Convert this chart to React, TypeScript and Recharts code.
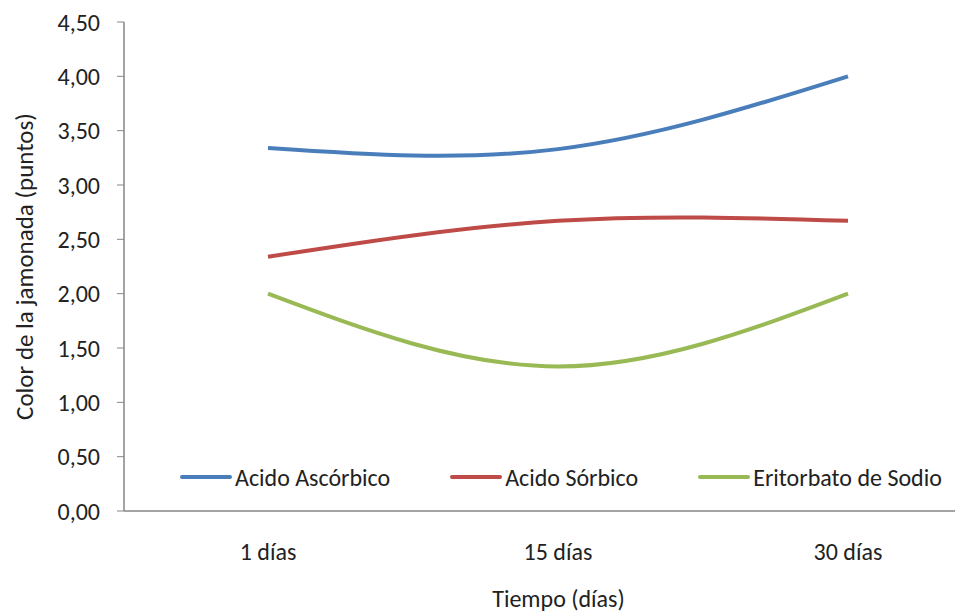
import { Label, Line, LineChart, XAxis, YAxis } from "recharts";

const DAYS = ["1 días", "15 días", "30 días"];
const ASCORBICO = [3.34, 3.33, 4.0];
const SORBICO = [2.34, 2.67, 2.67];
const ERITORBATO = [2.0, 1.33, 2.0];
const Y_TICKS = [0, 0.5, 1, 1.5, 2, 2.5, 3, 3.5, 4, 4.5];

const SERIES = [
  { key: "ascorbico", name: "Acido Ascórbico", color: "#4A7EBB" },
  { key: "sorbico", name: "Acido Sórbico", color: "#BE4B48" },
  { key: "eritorbato", name: "Eritorbato de Sodio", color: "#98B954" },
];

const data = DAYS.map((day, i) => ({
  day,
  ascorbico: ASCORBICO[i],
  sorbico: SORBICO[i],
  eritorbato: ERITORBATO[i],
}));

const FONT = "Carlito, 'Liberation Sans', 'DejaVu Sans', sans-serif";
const TEXT = "#222";
const AXIS = "#868686";

// legend sits inside the plot in the original, so it is drawn over the chart
// instead of letting recharts reserve space for it
function ChartLegend() {
  return (
    <div
      style={{
        position: "absolute",
        top: 462,
        left: 180,
        height: 30,
        display: "flex",
        alignItems: "center",
        fontFamily: FONT,
        fontSize: 24,
        color: TEXT,
        whiteSpace: "nowrap",
      }}
    >
      {SERIES.map((s) => (
        <div key={s.key} style={{ display: "flex", alignItems: "center", marginRight: 60 }}>
          <span style={{ display: "inline-block", width: 52, height: 4, borderRadius: 2, background: s.color, marginRight: 3 }} />
          <span>{s.name}</span>
        </div>
      ))}
    </div>
  );
}

export default function App() {
  return (
    <div style={{ position: "fixed", top: 0, left: 0, background: "#fff", width: 955, height: 613, overflow: "hidden" }}>
      <LineChart width={955} height={613} data={data} margin={{ top: 22, right: 0, bottom: 0, left: 0 }}>
        <XAxis
          dataKey="day"
          height={102}
          padding={{ left: 144, right: 107 }}
          tickLine={false}
          tickSize={0}
          tickMargin={32}
          axisLine={{ stroke: AXIS, strokeWidth: 1.5 }}
          tick={{ fill: TEXT, fontSize: 24, fontFamily: FONT }}
        >
          <Label value="Tiempo (días)" position="insideBottom" offset={6} dx={19} fill={TEXT} fontSize={24} fontFamily={FONT} />
        </XAxis>
        <YAxis
          width={124}
          domain={[0, 4.5]}
          ticks={Y_TICKS}
          interval={0}
          tickSize={7}
          tickMargin={17}
          tickLine={{ stroke: AXIS }}
          axisLine={{ stroke: AXIS, strokeWidth: 1.5 }}
          tickFormatter={(v: number) => v.toFixed(2).replace(".", ",")}
          tick={{ fill: TEXT, fontSize: 24, fontFamily: FONT }}
        >
          <Label
            value="Color de la jamonada (puntos)"
            angle={-90}
            position="insideLeft"
            offset={24}
            fill={TEXT}
            fontSize={25}
            fontFamily={FONT}
            style={{ textAnchor: "middle" }}
          />
        </YAxis>
        {SERIES.map((s) => (
          <Line
            key={s.key}
            type="natural"
            dataKey={s.key}
            name={s.name}
            stroke={s.color}
            strokeWidth={4}
            dot={false}
            activeDot={false}
            isAnimationActive={false}
          />
        ))}
      </LineChart>
      <ChartLegend />
    </div>
  );
}
